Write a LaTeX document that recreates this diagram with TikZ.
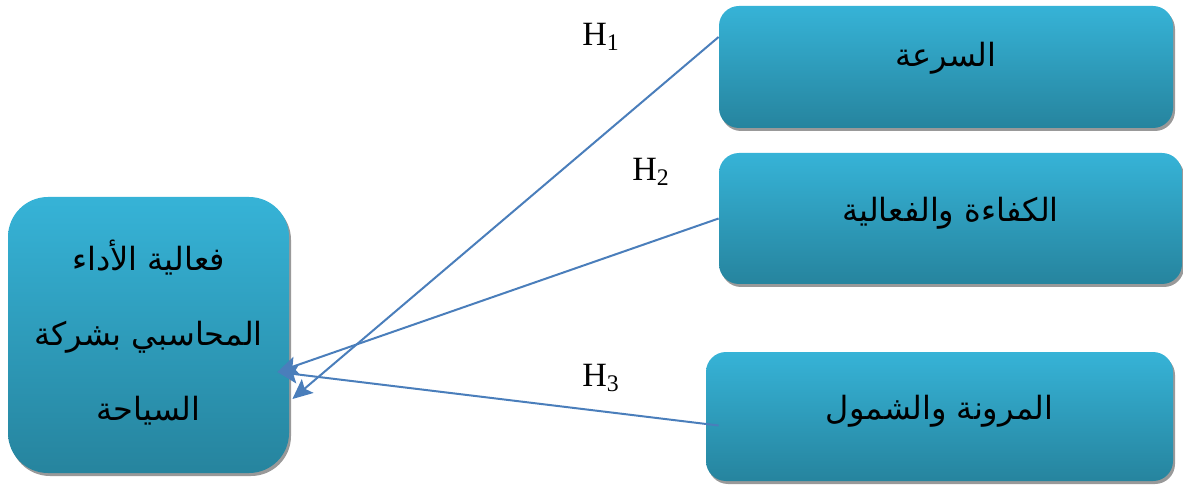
\documentclass[tikz,border=0pt]{standalone}
\usepackage{fontspec}
\setmainfont{Liberation Serif}
\newfontfamily\arabicfont[Script=Arabic]{DejaVu Sans}
\TeXXeTstate=1
\usetikzlibrary{shadows,arrows.meta}
\definecolor{boxtop}{RGB}{54,179,215}
\definecolor{boxbot}{RGB}{38,132,158}
\definecolor{linkblue}{RGB}{74,126,187}
\tikzset{
  varbox/.style={rounded corners=10pt, top color=boxtop, bottom color=boxbot, draw=none, inner sep=0pt,
    drop shadow={shadow xshift=1pt, shadow yshift=-1.5pt, fill=black!40, opacity=1},
    font=\arabicfont\fontsize{16}{20}\selectfont, text height=4pt, text depth=4pt},
  link/.style={draw=linkblue, line width=1pt, -{Stealth[length=10pt,width=9pt,inset=2pt]}},
  hlabel/.style={font=\fontsize{17}{20}\selectfont, inner sep=0pt},
}
\begin{document}
\begin{tikzpicture}[x=0.5pt,y=-0.5pt]
\useasboundingbox (0,0) rectangle (1183,486);
% dependent variable
\node[varbox, rounded corners=20pt, minimum width=140.5pt, minimum height=138pt, align=center,
  text height=, text depth=, font=\arabicfont\fontsize{16}{37.5}\selectfont] (perf) at (148.5,335)
  {\raisebox{5pt}{\beginR فعالية الأداء\endR}\\\raisebox{5pt}{\beginR المحاسبي بشركة\endR}\\\raisebox{5pt}{\beginR السياحة\endR}};
% independent variables
\node[varbox, minimum width=227pt, minimum height=61pt] (speed) at (946,67) {\beginR السرعة\endR};
\node[varbox, minimum width=231.5pt, minimum height=65.5pt, text height=5.5pt, text depth=2.5pt] (eff) at (950.5,218.5) {\beginR الكفاءة والفعالية\endR};
\node[varbox, minimum width=233.5pt, minimum height=64.5pt, text height=5.5pt, text depth=2.5pt] (flex) at (939.5,416.5) {\beginR المرونة والشمول\endR};
% hypotheses
\draw[link] ([yshift=15pt]speed.west) -- ([xshift=1.5pt,yshift=-32pt]perf.east);
\draw[link] (eff.west) -- ([xshift=-6pt,yshift=-18.5pt]perf.east);
\draw[link] ([xshift=6.5pt,yshift=-4.5pt]flex.west) -- ([xshift=-6pt,yshift=-18.5pt]perf.east);
\node[hlabel] (h1) at (601,37) {H\textsubscript{1}};
\node[hlabel] (h2) at (651,172) {H\textsubscript{2}};
\node[hlabel] (h3) at (601,378) {H\textsubscript{3}};
\end{tikzpicture}
\end{document}
